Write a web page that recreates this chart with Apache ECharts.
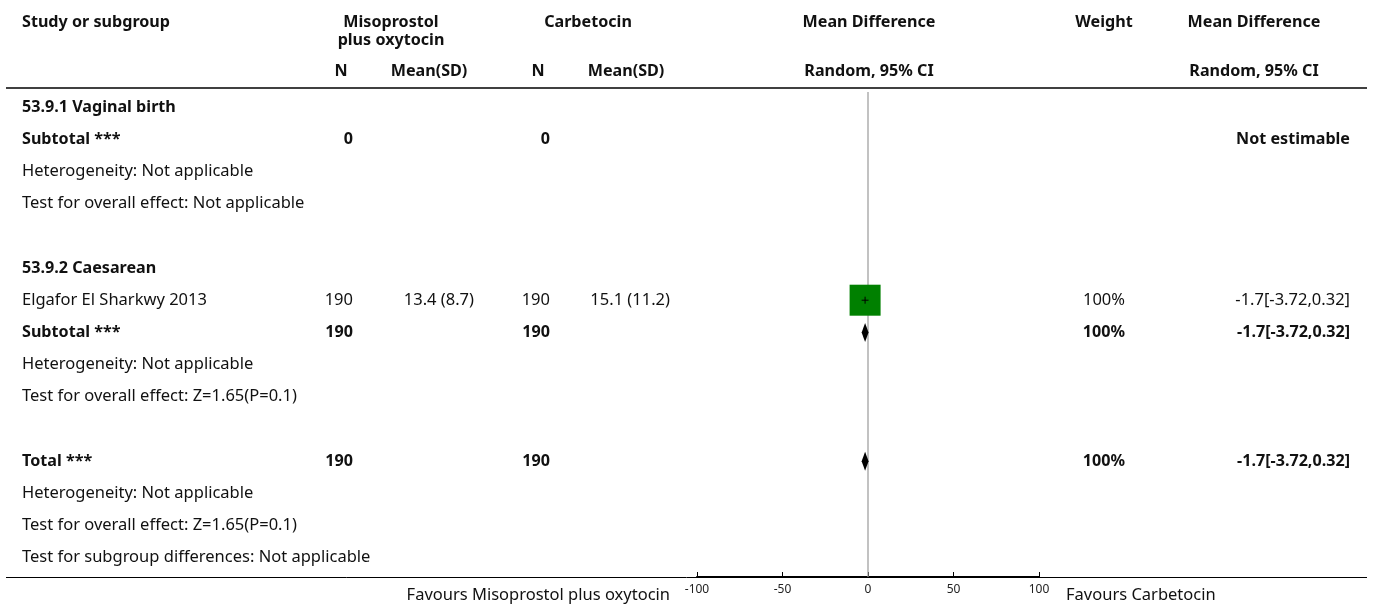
<!DOCTYPE html>
<html>
<head>
<meta charset="utf-8">
<script src="https://cdn.jsdelivr.net/npm/echarts@6/dist/echarts.min.js"></script>
<style>html,body{margin:0;padding:0;background:#fff}#c{width:1375px;height:605px}</style>
</head>
<body>
<div id="c"></div>
<script>
// ---- data ----
const rowText = ['53.9.1 Vaginal birth','Subtotal ***','Heterogeneity: Not applicable','Test for overall effect: Not applicable','',
  '53.9.2 Caesarean','Elgafor El Sharkwy 2013','Subtotal ***','Heterogeneity: Not applicable','Test for overall effect: Z=1.65(P=0.1)','',
  'Total ***','Heterogeneity: Not applicable','Test for overall effect: Z=1.65(P=0.1)','Test for subgroup differences: Not applicable'];
const rowBold = [1,1,0,0,0,1,0,1,0,0,0,1,0,0,0];
const n1Col    = ['','0','','','','','190','190','','','','190','','',''];
const mean1Col = ['','','','','','','13.4 (8.7)','','','','','','','',''];
const n2Col    = ['','0','','','','','190','190','','','','190','','',''];
const mean2Col = ['','','','','','','15.1 (11.2)','','','','','','','',''];
const weightCol= ['','','','','','','100%','100%','','','','100%','','',''];
const ciCol    = ['','Not estimable','','','','','-1.7[-3.72,0.32]','-1.7[-3.72,0.32]','','','','-1.7[-3.72,0.32]','','',''];
const studyRows = [6], studyMD = [-1.7], studyLo = [-3.72], studyHi = [0.32], studyWeight = [100];
const diamondRows = [7, 11], diamondMD = [-1.7, -1.7], diamondLo = [-3.72, -3.72], diamondHi = [0.32, 0.32];
const xTicks = [-100, -50, 0, 50, 100];

// ---- layout ----
const FONT = '"Noto Sans"';
const ctx = document.createElement('canvas').getContext('2d');
function fit(text, bold, target) {
  ctx.font = (bold ? 'bold ' : '') + '100px ' + FONT;
  return 100 * target / ctx.measureText(text).width;
}
const FS = fit('Elgafor El Sharkwy 2013', false, 185);
const FSB = fit('Mean Difference', true, 133);
const ROW0 = 107, ROWH = 32.2, AXIS_Y = 577;
const yMin = -ROW0 / ROWH, yMax = (AXIS_Y - ROW0) / ROWH;
const cols = [
  {arr: null, x: 22, align: 'left'},
  {arr: n1Col, x: 353, align: 'right'},
  {arr: mean1Col, x: 474, align: 'right'},
  {arr: n2Col, x: 550, align: 'right'},
  {arr: mean2Col, x: 670, align: 'right'},
  {arr: weightCol, x: 1125, align: 'right'},
  {arr: ciCol, x: 1350, align: 'right'}
];
const textData = [];
rowText.forEach((t, i) => {
  cols.forEach((c, ci) => {
    const s = ci === 0 ? t : c.arr[i];
    if (s) textData.push([0, i, ci, s, rowBold[i]]);
  });
});
const TXT = '#111';
const chart = echarts.init(document.getElementById('c'), null, {renderer: 'canvas'});
function hdr(text, x, y, align) {
  return {type: 'text', x: x, y: y, style: {text: text, fill: TXT, font: 'bold ' + FSB + 'px ' + FONT, textAlign: align, textVerticalAlign: 'middle'}};
}
chart.setOption({
  animation: false,
  grid: {left: 697, right: 1375 - 1039, top: 0, bottom: 605 - AXIS_Y},
  xAxis: {type: 'value', min: -100, max: 100, interval: 50, position: 'bottom',
    axisLine: {onZero: false, lineStyle: {color: '#000', width: 2}},
    axisTick: {inside: true, length: 5, lineStyle: {color: '#000'}},
    axisLabel: {color: '#222', fontSize: 12, fontFamily: FONT, margin: 7,
      formatter: v => String(xTicks.indexOf(v) >= 0 ? v : '')},
    splitLine: {show: false}},
  yAxis: {type: 'value', inverse: true, min: yMin, max: yMax, show: false},
  graphic: [
    {type: 'line', shape: {x1: 6, y1: 88, x2: 1367, y2: 88}, style: {stroke: '#000', lineWidth: 1.5}},
    {type: 'line', shape: {x1: 6, y1: AXIS_Y + 0.5, x2: 1367, y2: AXIS_Y + 0.5}, style: {stroke: '#000', lineWidth: 1}},
    hdr('Study or subgroup', 22, 22, 'left'),
    hdr('Misoprostol', 391, 22, 'center'),
    hdr('plus oxytocin', 391, 40, 'center'),
    hdr('Carbetocin', 588, 22, 'center'),
    hdr('Mean Difference', 869, 22, 'center'),
    hdr('Weight', 1104, 22, 'center'),
    hdr('Mean Difference', 1254, 22, 'center'),
    hdr('N', 341, 71, 'center'),
    hdr('Mean(SD)', 429, 71, 'center'),
    hdr('N', 538, 71, 'center'),
    hdr('Mean(SD)', 626, 71, 'center'),
    hdr('Random, 95% CI', 869, 71, 'center'),
    hdr('Random, 95% CI', 1254, 71, 'center'),
    {type: 'text', x: 670, y: 595, style: {text: 'Favours Misoprostol plus oxytocin', fill: TXT, font: FS + 'px ' + FONT, textAlign: 'right', textVerticalAlign: 'middle'}},
    {type: 'text', x: 1066, y: 595, style: {text: 'Favours Carbetocin', fill: TXT, font: FS + 'px ' + FONT, textAlign: 'left', textVerticalAlign: 'middle'}}
  ],
  series: [
    {type: 'line', data: [[0, (92 - ROW0) / ROWH], [0, yMax]], symbol: 'none', silent: true,
      lineStyle: {color: '#999', width: 1.2}, z: 1},
    {type: 'custom', z: 5, data: textData, clip: false,
      renderItem: function (params, api) {
        const y = api.coord([0, api.value(1)])[1];
        const c = cols[api.value(2)];
        const bold = api.value(4) === 1;
        return {type: 'text', x: c.x, y: y, style: {text: textData[params.dataIndex][3], fill: TXT,
          font: bold ? ('bold ' + FSB + 'px ' + FONT) : (FS + 'px ' + FONT), textAlign: c.align, textVerticalAlign: 'middle'}};
      }},
    {type: 'custom', z: 4, data: studyRows.map((r, i) => [studyMD[i], r, studyLo[i], studyHi[i], studyWeight[i]]),
      renderItem: function (params, api) {
        const p = api.coord([api.value(0), api.value(1)]);
        const lo = api.coord([api.value(2), api.value(1)]);
        const hi = api.coord([api.value(3), api.value(1)]);
        const s = 31 * Math.sqrt(api.value(4) / 100);
        return {type: 'group', children: [
          {type: 'rect', shape: {x: p[0] - s / 2, y: p[1] - s / 2, width: s, height: s}, style: {fill: '#008000'}},
          {type: 'line', shape: {x1: lo[0], y1: p[1], x2: hi[0], y2: p[1]}, style: {stroke: '#000', lineWidth: 1}},
          {type: 'line', shape: {x1: p[0], y1: p[1] - 3.5, x2: p[0], y2: p[1] + 3.5}, style: {stroke: '#000', lineWidth: 1}}
        ]};
      }},
    {type: 'custom', z: 4, data: diamondRows.map((r, i) => [diamondMD[i], r, diamondLo[i], diamondHi[i]]),
      renderItem: function (params, api) {
        const r = api.value(1);
        const top = api.coord([api.value(0), r - 0.295]);
        const bot = api.coord([api.value(0), r + 0.295]);
        const lo = api.coord([api.value(2), r]);
        const hi = api.coord([api.value(3), r]);
        return {type: 'polygon', shape: {points: [lo, top, hi, bot]}, style: {fill: '#000'}};
      }}
  ]
});
</script>
</body>
</html>
